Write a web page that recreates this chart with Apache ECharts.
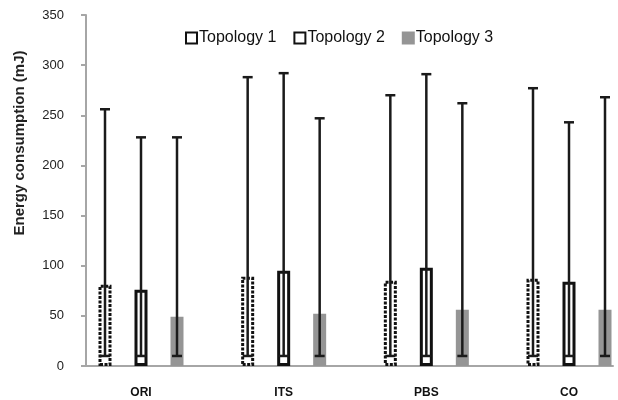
<!DOCTYPE html>
<html>
<head>
<meta charset="utf-8">
<script src="https://cdn.jsdelivr.net/npm/echarts@6/dist/echarts.min.js"></script>
<style>html,body{margin:0;padding:0;background:#fff}#c{width:618px;height:400px}</style>
</head>
<body>
<div id="c"></div>
<script>
var categories = ['ORI', 'ITS', 'PBS', 'CO'];
var seriesNames = ['Topology 1', 'Topology 2', 'Topology 3'];
var topo1 = [81, 89, 85, 87];
var topo2 = [76, 95, 98, 84];
var topo3 = [49, 52, 56, 56];
var topo1Low = [10, 10, 10, 10];
var topo2Low = [10, 10, 10, 10];
var topo3Low = [10, 10, 10, 10];
var topo1High = [256, 288, 270, 277];
var topo2High = [228, 292, 291, 243];
var topo3High = [228, 247, 262, 268];
var yTicks = [0, 50, 100, 150, 200, 250, 300, 350];

var FONT = '"Liberation Sans", Arial, sans-serif';
var BAR_W = 13, BAR_STEP = 36;

function errData(lo, hi) {
  return categories.map(function (c, i) { return [i, lo[i], hi[i]]; });
}
function errSeries(k, lo, hi) {
  return {
    type: 'custom', xAxisIndex: 0, yAxisIndex: 0, z: 5,
    data: errData(lo, hi),
    encode: { x: 0, y: [1, 2] },
    renderItem: function (params, api) {
      var i = api.value(0);
      var top = api.coord([i, api.value(2)]);
      var bot = api.coord([i, api.value(1)]);
      var x = top[0] + (k - 1) * BAR_STEP;
      var st = { stroke: '#1a1a1a', lineWidth: 2.5 };
      return {
        type: 'group',
        children: [
          { type: 'line', shape: { x1: x, y1: top[1], x2: x, y2: bot[1] }, style: st },
          { type: 'line', shape: { x1: x - 5, y1: top[1], x2: x + 5, y2: top[1] }, style: st },
          { type: 'line', shape: { x1: x - 5, y1: bot[1], x2: x + 5, y2: bot[1] }, style: st }
        ]
      };
    }
  };
}

var chart = echarts.init(document.getElementById('c'), null, { renderer: 'canvas' });
chart.setOption({
  animation: false,
  backgroundColor: '#fff',
  textStyle: { fontFamily: FONT },
  grid: [
    { left: 141, right: 49, top: 15, bottom: 34 },
    { left: 86, right: 5, top: 15, bottom: 34 }
  ],
  legend: {
    data: seriesNames,
    left: 180, top: 25,
    itemWidth: 11, itemHeight: 11, itemGap: 17,
    icon: 'rect',
    textStyle: { fontSize: 16, color: '#111', fontFamily: FONT, padding: [0, 0, 0, -3] }
  },
  xAxis: [
    {
      type: 'category', gridIndex: 0, data: categories, boundaryGap: false,
      axisLine: { show: false }, axisTick: { show: false },
      axisLabel: { fontSize: 12, fontWeight: 'bold', color: '#111', margin: 21, fontFamily: FONT }
    },
    {
      type: 'value', gridIndex: 1, min: 0, max: 1,
      axisLine: { show: true, lineStyle: { color: '#a6a6a6', width: 2 } },
      axisTick: { show: false }, axisLabel: { show: false }, splitLine: { show: false }
    }
  ],
  yAxis: [
    {
      type: 'value', gridIndex: 0, min: 0, max: 350, interval: 50, show: false,
      splitLine: { show: false }
    },
    {
      type: 'value', gridIndex: 1, min: yTicks[0], max: yTicks[yTicks.length - 1], interval: 50,
      axisLine: { show: true, lineStyle: { color: '#a6a6a6', width: 2 } },
      axisTick: { show: true, length: 5, lineStyle: { color: '#a6a6a6', width: 2 } },
      axisLabel: { fontSize: 13, color: '#222', margin: 22, fontFamily: FONT },
      splitLine: { show: false }
    }
  ],
  graphic: [{
    type: 'text', x: 20, y: 143, rotation: Math.PI / 2,
    style: {
      text: 'Energy consumption (mJ)', font: 'bold 15px ' + FONT, fill: '#222',
      textAlign: 'center', textVerticalAlign: 'middle'
    }
  }],
  series: [
    {
      name: seriesNames[0], type: 'bar', data: topo1, xAxisIndex: 0, yAxisIndex: 0,
      barWidth: BAR_W, barGap: ((BAR_STEP - BAR_W) / BAR_W * 100) + '%',
      itemStyle: { color: '#fff', borderColor: '#111', borderWidth: 3, borderType: [3, 1.5] }
    },
    {
      name: seriesNames[1], type: 'bar', data: topo2, xAxisIndex: 0, yAxisIndex: 0,
      barWidth: BAR_W,
      itemStyle: { color: '#fff', borderColor: '#111', borderWidth: 3 }
    },
    {
      name: seriesNames[2], type: 'bar', data: topo3, xAxisIndex: 0, yAxisIndex: 0,
      barWidth: BAR_W,
      itemStyle: { color: '#959595', borderColor: '#959595', borderWidth: 3 }
    },
    errSeries(0, topo1Low, topo1High),
    errSeries(1, topo2Low, topo2High),
    errSeries(2, topo3Low, topo3High)
  ]
});
</script>
</body>
</html>
